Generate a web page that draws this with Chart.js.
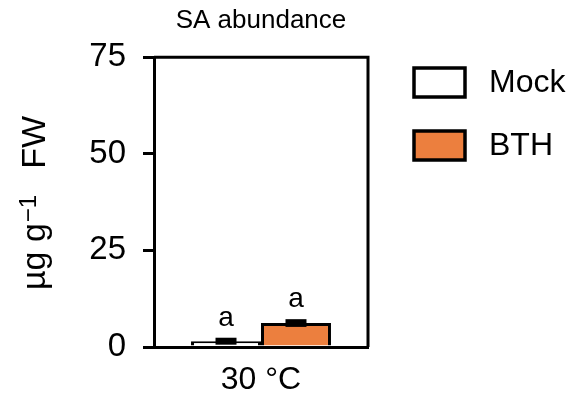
<!DOCTYPE html>
<html>
<head>
<meta charset="utf-8">
<script src="https://cdn.jsdelivr.net/npm/chart.js@4"></script>
<style>
  body { margin: 0; background: #fff; }
  #wrap { width: 579px; height: 401px; }
</style>
</head>
<body>
<div id="wrap"><canvas id="myChart"></canvas></div>
<script>
const categories = ["30 °C"];
const mockValues = [1.5];
const mockErrors = [0.9];
const bthValues = [6.2];
const bthErrors = [1.0];
const mockLetters = ["a"];
const bthLetters = ["a"];
const yTicks = [0, 25, 50, 75];

const FONT = "'Liberation Sans', Arial, Helvetica, sans-serif";

// error bars drawn as solid black blocks + significance letters
const errorBars = {
  id: "errorBars",
  afterDatasetsDraw(chart) {
    const ctx = chart.ctx;
    const y = chart.scales.y;
    chart.data.datasets.forEach((ds, i) => {
      const meta = chart.getDatasetMeta(i);
      meta.data.forEach((bar, j) => {
        const top = y.getPixelForValue(ds.data[j] + ds.errors[j]);
        const bot = y.getPixelForValue(Math.max(0, ds.data[j] - ds.errors[j]));
        const w = bar.width * 0.3;
        ctx.save();
        ctx.fillStyle = "#000";
        ctx.fillRect(bar.x - w / 2, top, w, bot - top);
        ctx.font = "28px " + FONT;
        ctx.textAlign = "center";
        ctx.textBaseline = "alphabetic";
        ctx.fillText(ds.letters[j], bar.x, top - 12);
        ctx.restore();
      });
    });
  },
};

// closes the frame (top + right), draws the legend and the y title with a real superscript
const frameAndLegend = {
  id: "frameAndLegend",
  afterDraw(chart) {
    const ctx = chart.ctx;
    const a = chart.chartArea;
    ctx.save();
    ctx.strokeStyle = "#000";
    ctx.lineWidth = 3;
    ctx.beginPath();
    ctx.moveTo(a.left, a.top);
    ctx.lineTo(a.right, a.top);
    ctx.lineTo(a.right, a.bottom);
    ctx.stroke();

    const bx = a.right + 46;
    chart.data.datasets.forEach((ds, i) => {
      const by = 68 + i * 63;
      ctx.fillStyle = ds.backgroundColor;
      ctx.fillRect(bx, by, 51, 29);
      ctx.lineWidth = 3.5;
      ctx.strokeRect(bx, by, 51, 29);
      ctx.fillStyle = "#000";
      ctx.font = "32px " + FONT;
      ctx.textAlign = "left";
      ctx.textBaseline = "middle";
      ctx.fillText(ds.label, bx + 75, by + 15);
    });

    // y axis title: µg g⁻¹ FW
    ctx.translate(45, 290);
    ctx.rotate(-Math.PI / 2);
    ctx.fillStyle = "#000";
    ctx.textAlign = "left";
    ctx.textBaseline = "alphabetic";
    ctx.font = "34px " + FONT;
    ctx.fillText("µg g", 0, 0);
    const w1 = ctx.measureText("µg g").width;
    ctx.font = "24px " + FONT;
    ctx.fillText("\u22121", w1 + 1, -9);
    ctx.font = "34px " + FONT;
    const wFW = ctx.measureText("FW").width;
    ctx.fillText("FW", 174 - wFW, 0);
    ctx.restore();
  },
};

const ctx = document.getElementById("myChart");

new Chart(ctx, {
  type: "bar",
  data: {
    labels: categories,
    datasets: [
      {
        label: "Mock",
        data: mockValues,
        errors: mockErrors,
        letters: mockLetters,
        backgroundColor: "#ffffff",
        borderColor: "#000000",
        borderWidth: 3,
      },
      {
        label: "BTH",
        data: bthValues,
        errors: bthErrors,
        letters: bthLetters,
        backgroundColor: "#ec7f3e",
        borderColor: "#000000",
        borderWidth: 3,
      },
    ],
  },
  options: {
    responsive: true,
    maintainAspectRatio: false,
    animation: false,
    categoryPercentage: 0.654,
    barPercentage: 1,
    layout: { padding: { left: 0, right: 211, top: 0, bottom: 0 } },
    plugins: {
      title: {
        display: true,
        text: "SA abundance",
        fullSize: false,
        color: "#000",
        font: { family: FONT, size: 26, weight: "normal" },
        padding: { top: 5, bottom: 21 },
      },
      legend: { display: false },
      tooltip: { enabled: false },
    },
    scales: {
      x: {
        grid: { display: false, drawTicks: false },
        border: { color: "#000", width: 3 },
        ticks: { color: "#000", font: { family: FONT, size: 32 }, padding: 14 },
        afterFit(scale) {
          scale.height = 54;
        },
      },
      y: {
        min: 0,
        max: 75,
        afterBuildTicks(scale) {
          scale.ticks = yTicks.map((v) => ({ value: v }));
        },
        afterFit(scale) {
          scale.width = 154;
        },
        grid: {
          drawOnChartArea: false,
          color: "#000",
          lineWidth: 3,
          tickLength: 11,
        },
        border: { color: "#000", width: 3 },
        ticks: { color: "#000", font: { family: FONT, size: 33 }, padding: 17 },
      },
    },
  },
  plugins: [errorBars, frameAndLegend],
});
</script>
</body>
</html>
